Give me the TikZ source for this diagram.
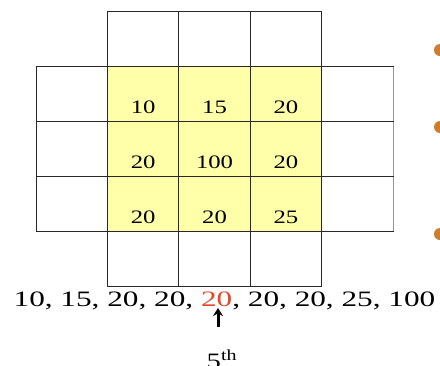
\documentclass[tikz,border=0pt]{standalone}
\usepackage{fontspec}
\setmainfont{Liberation Serif}
\usetikzlibrary{arrows.meta}
\definecolor{cellyellow}{RGB}{255,255,170}
\definecolor{gridline}{RGB}{40,40,40}
\definecolor{lightline}{RGB}{150,150,150}
\definecolor{medred}{RGB}{232,70,40}
\definecolor{bulletorange}{RGB}{205,125,45}
\tikzset{
  cell/.style={draw=gridline, line width=0.9pt, minimum width=71.4pt, minimum height=55pt, inner sep=0pt, anchor=north west},
  ycell/.style={cell, fill=cellyellow},
  num/.style={font=\fontsize{19}{19}\selectfont, inner sep=0pt, xscale=1.3, transform shape},
  bul/.style={circle, fill=bulletorange, minimum size=12pt, inner sep=0pt}
}
\begin{document}
\begin{tikzpicture}[x=1pt,y=-1pt]
\useasboundingbox (0,0) rectangle (440,365);
\clip (0,0) rectangle (440,365);
% yellow 3x3
\foreach \r in {0,1,2} {
  \foreach \c in {0,1,2} {
    \node[ycell] (y\r\c) at ({107+71.4*\c},{66+55*\r}) {};
  }
}
% top and bottom rows
\foreach \c in {0,1,2} {
  \node[cell] (t\c) at ({107+71.4*\c},11) {};
  \node[cell] (b\c) at ({107+71.4*\c},231) {};
}
% side columns
\foreach \r in {0,1,2} {
  \node[cell] (l\r) at (36,{66+55*\r}) {};
  \node[cell, draw=lightline] (r\r) at (321.2,{66+55*\r}) {};
  \draw[gridline, line width=0.9pt] (r\r.north west) -- (r\r.north east);
  \draw[gridline, line width=0.9pt] (r\r.south west) -- (r\r.south east);
  \draw[gridline, line width=0.9pt] (r\r.north west) -- (r\r.south west);
}
% numbers
\node[num] (n00) at ([yshift=-13.5pt]y00.center) {10};
\node[num] (n01) at ([yshift=-13.5pt]y01.center) {15};
\node[num] (n02) at ([yshift=-13.5pt]y02.center) {20};
\node[num] (n10) at ([yshift=-13.5pt]y10.center) {20};
\node[num] (n11) at ([yshift=-13.5pt]y11.center) {100};
\node[num] (n12) at ([yshift=-13.5pt]y12.center) {20};
\node[num] (n20) at ([yshift=-13.5pt]y20.center) {20};
\node[num] (n21) at ([yshift=-13.5pt]y21.center) {20};
\node[num] (n22) at ([yshift=-13.5pt]y22.center) {25};
% sorted list
\node[font=\fontsize{22}{22}\selectfont, inner sep=0pt, xscale=1.42, transform shape, anchor=base] (list) at (224.5,306) {10, 15, 20, 20, {\color{medred}20}, 20, 20, 25, 100};
\coordinate (arrtail) at (218,327);
\coordinate (arrtip) at (218,308);
\draw[line width=3pt, -{Stealth[length=8pt,width=10pt]}] (arrtail) -- (arrtip);
\node[font=\fontsize{22}{22}\selectfont, inner sep=0pt, xscale=1.3, transform shape, anchor=base] (fifth) at (222,368) {5\textsuperscript{th}};
% bullets
\node[bul] (bu1) at (440,50) {};
\node[bul] (bu2) at (440,127) {};
\node[bul] (bu3) at (440,234) {};
\end{tikzpicture}
\end{document}
